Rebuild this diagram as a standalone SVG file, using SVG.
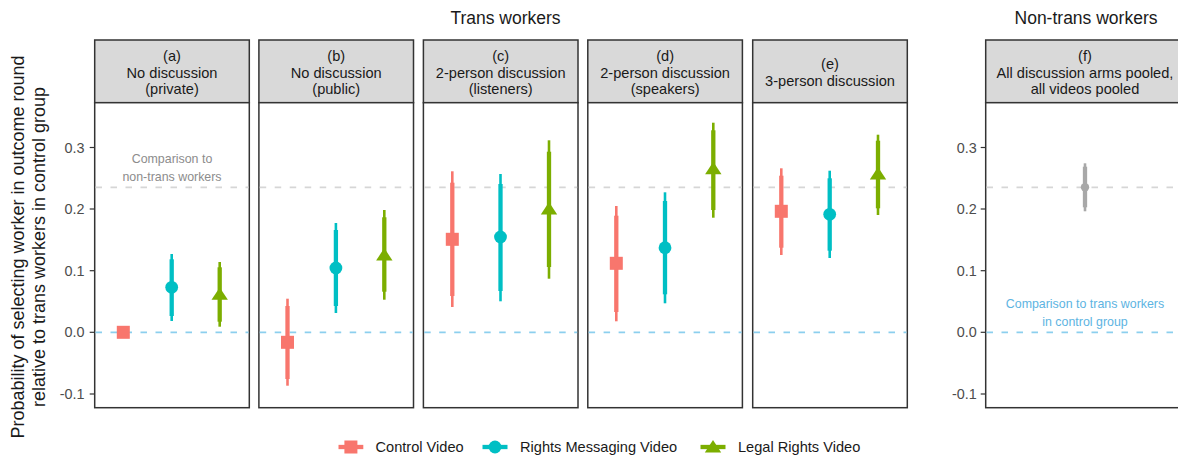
<svg xmlns="http://www.w3.org/2000/svg" xmlns:xlink="http://www.w3.org/1999/xlink" width="1178" height="458" viewBox="0 0 1178 458">
<style>
text{font-family:"Liberation Sans",Arial,Helvetica,sans-serif}
.title{font-size:17.5px;fill:#1a1a1a;text-anchor:middle}
.ytitle{font-size:18px;fill:#1a1a1a;text-anchor:middle}
.strip{fill:#d9d9d9;stroke:#333;stroke-width:1.5}
.strip-t{font-size:14.6px;fill:#1a1a1a;text-anchor:middle}
.panel{fill:#fff;stroke:#333;stroke-width:1.5}
.tick{font-size:14.4px;fill:#4d4d4d;text-anchor:end}
.tk{stroke:#333;stroke-width:1.2}
.ref-g{stroke:#d6d6d6;stroke-width:1.8;stroke-dasharray:6.5 8.5;fill:none}
.ref-b{stroke:#8ccfee;stroke-width:1.8;stroke-dasharray:6.5 8.5;fill:none}
.ann-g{font-size:12.4px;fill:#8c8c8c;text-anchor:middle}
.ann-b{font-size:12.4px;fill:#5db4e2;text-anchor:middle}
.thin{stroke-width:2.6;fill:none}
.thick{stroke-width:4.3;fill:none}
.r{stroke:#F8766D;fill:#F8766D}
.c{stroke:#00BFC4;fill:#00BFC4}
.g{stroke:#7CAE00;fill:#7CAE00}
.k{stroke:#a8a8a8;fill:#a8a8a8}
.leg{font-size:14.6px;fill:#1a1a1a}
</style>
<defs>
<rect id="sq" x="-6.5" y="-6.5" width="13" height="13" stroke="none"/>
<circle id="ci" r="6.4" stroke="none"/>
<polygon id="tr" points="-8.2,5.5 8.2,5.5 0,-6.9" stroke="none"/>
<circle id="dot" r="4.2" stroke="none"/>
</defs>

<text class="title" x="505.5" y="24">Trans workers</text>
<text class="title" x="1086" y="24">Non-trans workers</text>

<g id="y-axis-title">
<text class="ytitle" transform="translate(24,247) rotate(-90)">Probability of selecting worker in outcome round</text>
<text class="ytitle" transform="translate(44.5,247) rotate(-90)">relative to trans workers in control group</text>
</g>

<g id="y-axis-left">
<line class="tk" x1="89.7" y1="147.5" x2="94.7" y2="147.5"/>
<line class="tk" x1="89.7" y1="209" x2="94.7" y2="209"/>
<line class="tk" x1="89.7" y1="270.7" x2="94.7" y2="270.7"/>
<line class="tk" x1="89.7" y1="332.3" x2="94.7" y2="332.3"/>
<line class="tk" x1="89.7" y1="394" x2="94.7" y2="394"/>
<text class="tick" x="84.5" y="152.5">0.3</text>
<text class="tick" x="84.5" y="214">0.2</text>
<text class="tick" x="84.5" y="275.7">0.1</text>
<text class="tick" x="84.5" y="337.3">0.0</text>
<text class="tick" x="84.5" y="399">-0.1</text>
</g>

<g id="y-axis-right">
<line class="tk" x1="980.7" y1="147.5" x2="985.7" y2="147.5"/>
<line class="tk" x1="980.7" y1="209" x2="985.7" y2="209"/>
<line class="tk" x1="980.7" y1="270.7" x2="985.7" y2="270.7"/>
<line class="tk" x1="980.7" y1="332.3" x2="985.7" y2="332.3"/>
<line class="tk" x1="980.7" y1="394" x2="985.7" y2="394"/>
<text class="tick" x="976.7" y="152.5">0.3</text>
<text class="tick" x="976.7" y="214">0.2</text>
<text class="tick" x="976.7" y="275.7">0.1</text>
<text class="tick" x="976.7" y="337.3">0.0</text>
<text class="tick" x="976.7" y="399">-0.1</text>
</g>

<!-- Panel a -->
<g id="panel-a">
<rect class="strip" x="94.7" y="40" width="154.6" height="62.7"/>
<text class="strip-t" x="172" y="60.8">(a)</text>
<text class="strip-t" x="172" y="77.5">No discussion</text>
<text class="strip-t" x="172" y="94.2">(private)</text>
<rect class="panel" x="94.7" y="102.7" width="154.6" height="305"/>
<line class="ref-g" x1="95.5" y1="187.4" x2="248.5" y2="187.4"/>
<line class="ref-b" x1="95.5" y1="332.3" x2="248.5" y2="332.3"/>
<text class="ann-g" x="172" y="163">Comparison to</text>
<text class="ann-g" x="172" y="180.5">non-trans workers</text>
<use href="#sq" class="r" x="123.3" y="332.3"/>
<line class="thin c" x1="171.7" y1="254" x2="171.7" y2="321"/>
<line class="thick c" x1="171.7" y1="259.3" x2="171.7" y2="316"/>
<use href="#ci" class="c" x="171.7" y="287.3"/>
<line class="thin g" x1="219.7" y1="262" x2="219.7" y2="326.7"/>
<line class="thick g" x1="219.7" y1="267.3" x2="219.7" y2="321.7"/>
<use href="#tr" class="g" x="219.7" y="294.3"/>
</g>

<!-- Panel b -->
<g id="panel-b">
<rect class="strip" x="258.9" y="40" width="154.6" height="62.7"/>
<text class="strip-t" x="336.2" y="60.8">(b)</text>
<text class="strip-t" x="336.2" y="77.5">No discussion</text>
<text class="strip-t" x="336.2" y="94.2">(public)</text>
<rect class="panel" x="258.9" y="102.7" width="154.6" height="305"/>
<line class="ref-g" x1="259.7" y1="187.4" x2="412.7" y2="187.4"/>
<line class="ref-b" x1="259.7" y1="332.3" x2="412.7" y2="332.3"/>
<line class="thin r" x1="287.5" y1="298.7" x2="287.5" y2="385.7"/>
<line class="thick r" x1="287.5" y1="306" x2="287.5" y2="379"/>
<use href="#sq" class="r" x="287.5" y="342.3"/>
<line class="thin c" x1="335.9" y1="223" x2="335.9" y2="313"/>
<line class="thick c" x1="335.9" y1="230" x2="335.9" y2="306"/>
<use href="#ci" class="c" x="335.9" y="268"/>
<line class="thin g" x1="384.3" y1="210" x2="384.3" y2="299.7"/>
<line class="thick g" x1="384.3" y1="217.3" x2="384.3" y2="291.7"/>
<use href="#tr" class="g" x="384.3" y="255"/>
</g>

<!-- Panel c -->
<g id="panel-c">
<rect class="strip" x="423.4" y="40" width="154.6" height="62.7"/>
<text class="strip-t" x="500.7" y="60.8">(c)</text>
<text class="strip-t" x="500.7" y="77.5">2-person discussion</text>
<text class="strip-t" x="500.7" y="94.2">(listeners)</text>
<rect class="panel" x="423.4" y="102.7" width="154.6" height="305"/>
<line class="ref-g" x1="424.2" y1="187.4" x2="577.2" y2="187.4"/>
<line class="ref-b" x1="424.2" y1="332.3" x2="577.2" y2="332.3"/>
<line class="thin r" x1="452.3" y1="171.3" x2="452.3" y2="307"/>
<line class="thick r" x1="452.3" y1="182.7" x2="452.3" y2="296"/>
<use href="#sq" class="r" x="452.3" y="239.3"/>
<line class="thin c" x1="500.5" y1="174" x2="500.5" y2="301.3"/>
<line class="thick c" x1="500.5" y1="184" x2="500.5" y2="291"/>
<use href="#ci" class="c" x="500.5" y="237"/>
<line class="thin g" x1="549" y1="140.3" x2="549" y2="278.7"/>
<line class="thick g" x1="549" y1="151.7" x2="549" y2="267"/>
<use href="#tr" class="g" x="549" y="209"/>
</g>

<!-- Panel d -->
<g id="panel-d">
<rect class="strip" x="587.8" y="40" width="154.6" height="62.7"/>
<text class="strip-t" x="665.1" y="60.8">(d)</text>
<text class="strip-t" x="665.1" y="77.5">2-person discussion</text>
<text class="strip-t" x="665.1" y="94.2">(speakers)</text>
<rect class="panel" x="587.8" y="102.7" width="154.6" height="305"/>
<line class="ref-g" x1="588.6" y1="187.4" x2="741.6" y2="187.4"/>
<line class="ref-b" x1="588.6" y1="332.3" x2="741.6" y2="332.3"/>
<line class="thin r" x1="616.3" y1="206" x2="616.3" y2="321.3"/>
<line class="thick r" x1="616.3" y1="215.7" x2="616.3" y2="312"/>
<use href="#sq" class="r" x="616.3" y="263.3"/>
<line class="thin c" x1="665" y1="192.3" x2="665" y2="303.3"/>
<line class="thick c" x1="665" y1="201" x2="665" y2="294.3"/>
<use href="#ci" class="c" x="665" y="247.7"/>
<line class="thin g" x1="713.3" y1="122.7" x2="713.3" y2="217.7"/>
<line class="thick g" x1="713.3" y1="130.3" x2="713.3" y2="210"/>
<use href="#tr" class="g" x="713.3" y="168.7"/>
</g>

<!-- Panel e -->
<g id="panel-e">
<rect class="strip" x="752.7" y="40" width="154.6" height="62.7"/>
<text class="strip-t" x="830" y="69.2">(e)</text>
<text class="strip-t" x="830" y="85.9">3-person discussion</text>
<rect class="panel" x="752.7" y="102.7" width="154.6" height="305"/>
<line class="ref-g" x1="753.5" y1="187.4" x2="906.5" y2="187.4"/>
<line class="ref-b" x1="753.5" y1="332.3" x2="906.5" y2="332.3"/>
<line class="thin r" x1="781.3" y1="168.3" x2="781.3" y2="255"/>
<line class="thick r" x1="781.3" y1="175.7" x2="781.3" y2="247.7"/>
<use href="#sq" class="r" x="781.3" y="211.3"/>
<line class="thin c" x1="829.7" y1="170.7" x2="829.7" y2="258"/>
<line class="thick c" x1="829.7" y1="178.3" x2="829.7" y2="250.7"/>
<use href="#ci" class="c" x="829.7" y="214.3"/>
<line class="thin g" x1="878" y1="134.7" x2="878" y2="215"/>
<line class="thick g" x1="878" y1="140.7" x2="878" y2="208.3"/>
<use href="#tr" class="g" x="878" y="174"/>
</g>

<!-- Panel f -->
<g id="panel-f">
<rect class="strip" x="985.7" y="40" width="198.3" height="62.7"/>
<text class="strip-t" x="1085" y="60.8">(f)</text>
<text class="strip-t" x="1085" y="77.5">All discussion arms pooled,</text>
<text class="strip-t" x="1085" y="94.2">all videos pooled</text>
<rect class="panel" x="985.7" y="102.7" width="198.3" height="305"/>
<line class="ref-g" x1="986.5" y1="187.4" x2="1176" y2="187.4"/>
<line class="ref-b" x1="986.5" y1="332.3" x2="1176" y2="332.3"/>
<text class="ann-b" x="1085" y="308">Comparison to trans workers</text>
<text class="ann-b" x="1085" y="325.5">in control group</text>
<line class="thin k" x1="1085" y1="163.3" x2="1085" y2="211.3"/>
<line class="thick k" x1="1085" y1="166.7" x2="1085" y2="207.3"/>
<use href="#dot" class="k" x="1085" y="187.3"/>
</g>

<!-- Legend -->
<g id="legend">
<line class="thick r" x1="338.5" y1="447" x2="363.3" y2="447"/>
<use href="#sq" class="r" x="350.9" y="447"/>
<text class="leg" x="375.5" y="452.2">Control Video</text>
<line class="thick c" x1="482.5" y1="447" x2="507.5" y2="447"/>
<use href="#ci" class="c" x="495" y="447"/>
<text class="leg" x="520" y="452.2">Rights Messaging Video</text>
<line class="thick g" x1="700.5" y1="447" x2="725.5" y2="447"/>
<use href="#tr" class="g" x="713" y="447"/>
<text class="leg" x="738" y="452.2">Legal Rights Video</text>
</g>
</svg>
